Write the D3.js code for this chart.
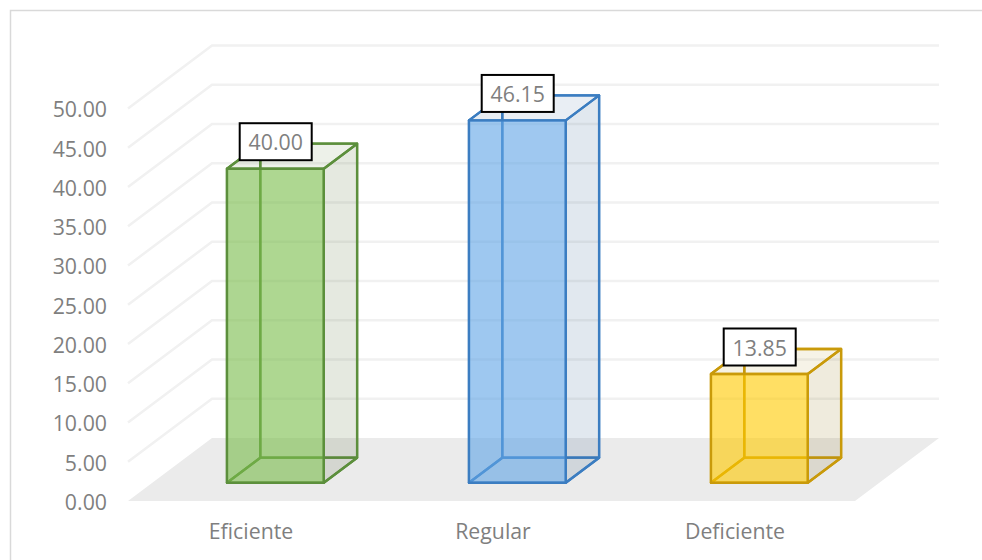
<!DOCTYPE html>
<html>
<head>
<meta charset="utf-8">
<script src="https://cdnjs.cloudflare.com/ajax/libs/d3/7.8.5/d3.min.js"></script>
<style>
html, body { margin: 0; padding: 0; background: #fff; }
svg { display: block; }
text { font-family: "Open Sans", sans-serif; }
</style>
</head>
<body>
<div id="chart"></div>
<script>
var categories = ["Eficiente", "Regular", "Deficiente"];
var values = [40.00, 46.15, 13.85];
var yTicks = [0, 5, 10, 15, 20, 25, 30, 35, 40, 45, 50];
var barColors = ["#7abc4b", "#61a5e6", "#ffca00"];
var edgeColors = ["#5c8f3c", "#3b7dc1", "#c99a0a"];
var sideColors = ["#4a5a30", "#2f5a80", "#806a20"];
var topColors = ["#5a6a3a", "#2f5a80", "#a08a30"];

var width = 982, height = 560;

var svg = d3.select("#chart").append("svg")
    .attr("width", width)
    .attr("height", height);

// frame of the chart area, only top and left are inside the picture
svg.append("path")
    .attr("d", "M10.5,560V10.5H982")
    .attr("fill", "none")
    .attr("stroke", "#d9d9d9")
    .attr("stroke-width", 1.5);

var x0 = 130, x1 = 856;
var xScale = d3.scaleBand()
    .domain(categories)
    .range([x0, x1])
    .paddingInner(0.6)
    .paddingOuter(0.3);

var yScale = d3.scaleLinear()
    .domain([0, 50])
    .range([501, 108.5]);

// depth axis of the fake 3d box, 0 = front of floor, 1 = back wall
var depthX = d3.scaleLinear().domain([0, 1]).range([0, 84]);
var depthY = d3.scaleLinear().domain([0, 1]).range([0, -63]);
var barFront = 0.29, barBack = 0.687;

function pt(x, v, d) {
    return [x + depthX(d), yScale(v) + depthY(d)];
}
var polyLine = d3.line();

// floor
svg.append("path")
    .attr("d", polyLine([pt(x0 - 2, 0, 0), pt(x0 - 2, 0, 1), pt(x1 - 1, 0, 1) , pt(x1 - 1, 0, 0)]) + "Z")
    .attr("fill", "#ebebeb");

// gridlines, side wall + back wall
svg.append("g").selectAll("path")
    .data(yTicks.slice(1))
    .enter().append("path")
    .attr("d", function(d) { return polyLine([pt(x0 - 2, d, 0), pt(x0 - 2, d, 1), pt(x1 - 1, d, 1)]); })
    .attr("fill", "none")
    .attr("stroke", "#f1f1f1")
    .attr("stroke-width", 2.5);

// axes
var yAxis = svg.append("g")
    .attr("transform", "translate(111,1.6)")
    .call(d3.axisLeft(yScale).tickValues(yTicks).tickSize(0).tickFormat(d3.format(".2f")));
yAxis.select(".domain").remove();
yAxis.selectAll("text")
    .attr("x", -4)
    .attr("fill", "#7f7f7f")
    .style("font-family", "'Open Sans', sans-serif")
    .style("font-size", "21.3px");

var xAxis = svg.append("g")
    .attr("transform", "translate(0,521)")
    .call(d3.axisBottom(xScale).tickSize(0));
xAxis.select(".domain").remove();
xAxis.selectAll("text")
    .attr("fill", "#7f7f7f")
    .style("font-family", "'Open Sans', sans-serif")
    .style("font-size", "21.3px");

// bars
categories.forEach(function(c, i) {
    var left = xScale(c), right = left + xScale.bandwidth(), v = values[i];
    var g = svg.append("g")
        .attr("stroke", edgeColors[i])
        .attr("stroke-width", 2.3)
        .attr("stroke-linejoin", "round");

    function face(pts, fill, op) {
        g.append("path")
            .attr("d", polyLine(pts) + "Z")
            .attr("fill", fill)
            .attr("fill-opacity", op);
    }
    var a = function(xx, vv) { return pt(xx, vv, barFront); };
    var b = function(xx, vv) { return pt(xx, vv, barBack); };

    // back pieces first, the front face is see through
    face([b(left, 0), b(right, 0), b(right, v), b(left, v)], barColors[i], 0.02);
    face([a(left, 0), a(right, 0), b(right, 0), b(left, 0)], "#000", 0.01);
    face([a(right, 0), b(right, 0), b(right, v), a(right, v)], sideColors[i], 0.13);
    face([a(left, 0), b(left, 0), b(left, v), a(left, v)], barColors[i], 0.03);
    face([a(left, v), a(right, v), b(right, v), b(left, v)], topColors[i], 0.09);
    face([a(left, 0), a(right, 0), a(right, v), a(left, v)], barColors[i], 0.6);
});

// value labels
var labelW = 72, labelH = 37;
var labels = svg.append("g").selectAll("g")
    .data(values)
    .enter().append("g")
    .attr("transform", function(d, i) {
        var p = pt(xScale(categories[i]) + xScale.bandwidth() / 2, d, barBack);
        return "translate(" + (p[0] - 33) + "," + (p[1] - 2) + ")";
    });
labels.append("rect")
    .attr("x", -labelW / 2)
    .attr("y", -labelH / 2)
    .attr("width", labelW)
    .attr("height", labelH)
    .attr("fill", "#fff")
    .attr("stroke", "#000")
    .attr("stroke-width", 2);
labels.append("text")
    .attr("text-anchor", "middle")
    .attr("dy", "0.4em")
    .attr("fill", "#7f7f7f")
    .style("font-size", "21.3px")
    .text(function(d) { return d3.format(".2f")(d); });
</script>
</body>
</html>
